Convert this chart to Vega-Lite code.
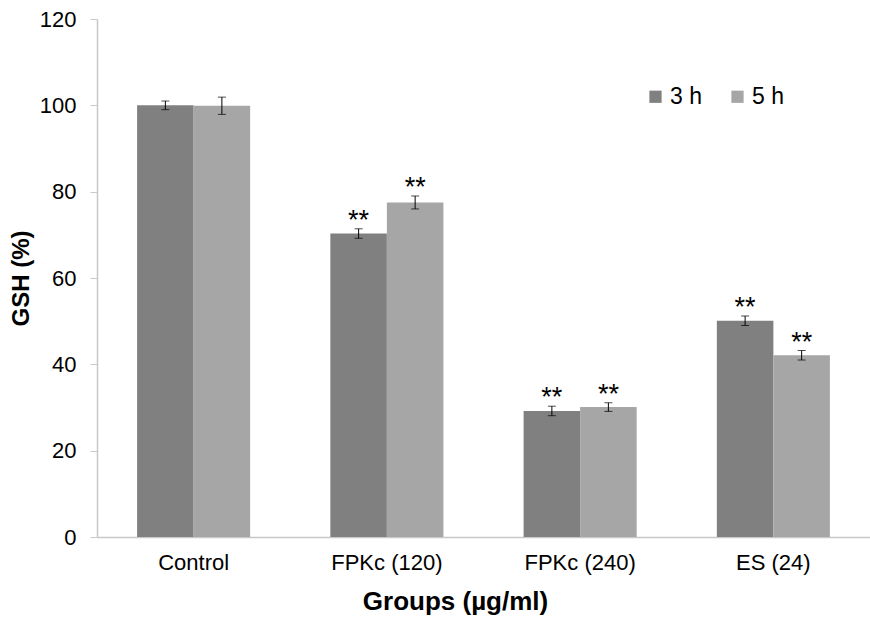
{
  "$schema": "https://vega.github.io/schema/vega-lite/v6.json",
  "width": 773,
  "height": 518,
  "autosize": {"type": "none"},
  "padding": {"left": 97, "top": 19, "right": 0, "bottom": 82},
  "background": "white",
  "config": {
    "view": {"stroke": null},
    "font": "Liberation Sans"
  },
  "data": {
    "values": [
      {"group": "Control", "time": "3 h", "value": 100.0, "err": 1.0, "sig": ""},
      {"group": "Control", "time": "5 h", "value": 99.9, "err": 2.0, "sig": ""},
      {"group": "FPKc (120)", "time": "3 h", "value": 70.3, "err": 1.1, "sig": "**"},
      {"group": "FPKc (120)", "time": "5 h", "value": 77.5, "err": 1.5, "sig": "**"},
      {"group": "FPKc (240)", "time": "3 h", "value": 29.2, "err": 1.1, "sig": "**"},
      {"group": "FPKc (240)", "time": "5 h", "value": 30.1, "err": 1.0, "sig": "**"},
      {"group": "ES (24)", "time": "3 h", "value": 50.1, "err": 1.1, "sig": "**"},
      {"group": "ES (24)", "time": "5 h", "value": 42.1, "err": 1.1, "sig": "**"}
    ]
  },
  "transform": [
    {"calculate": "datum.value - datum.err", "as": "lo"},
    {"calculate": "datum.value + datum.err", "as": "hi"}
  ],
  "encoding": {
    "x": {
      "field": "group",
      "type": "nominal",
      "sort": ["Control", "FPKc (120)", "FPKc (240)", "ES (24)"],
      "scale": {"paddingInner": 0.415, "paddingOuter": 0.2075},
      "axis": {
        "title": "Groups (µg/ml)",
        "titleFontSize": 26,
        "titleFontWeight": "bold",
        "titleColor": "#000",
        "titlePadding": 15,
        "titleX": 358,
        "labelAngle": 0,
        "labelFontSize": 22,
        "labelColor": "#000",
        "labelPadding": 15,
        "ticks": false,
        "domainColor": "#c8c8c8",
        "domainWidth": 1.5
      }
    },
    "xOffset": {"field": "time", "type": "nominal", "sort": ["3 h", "5 h"], "scale": {"paddingInner": 0, "paddingOuter": 0}}
  },
  "layer": [
    {
      "mark": {"type": "bar"},
      "encoding": {
        "y": {
          "field": "value",
          "type": "quantitative",
          "scale": {"domain": [0, 120], "nice": false},
          "axis": {
            "title": "GSH (%)",
            "titleFontSize": 24,
            "titleFontWeight": "bold",
            "titleColor": "#000",
            "titlePadding": 6,
            "values": [0, 20, 40, 60, 80, 100, 120],
            "labelFontSize": 22,
            "labelColor": "#000",
            "labelPadding": 14,
            "tickSize": 7,
            "tickColor": "#c8c8c8",
            "domainColor": "#c8c8c8",
            "domainWidth": 1.5,
            "grid": false
          }
        },
        "color": {
          "field": "time",
          "type": "nominal",
          "scale": {"domain": ["3 h", "5 h"], "range": ["#808080", "#a6a6a6"]},
          "legend": {
            "title": null,
            "orient": "none",
            "legendX": 547,
            "legendY": 66,
            "direction": "horizontal",
            "symbolType": "square",
            "symbolSize": 150,
            "symbolStrokeWidth": 0,
            "labelFontSize": 23,
            "labelColor": "#000",
            "columnPadding": 24,
            "labelOffset": 3
          }
        }
      }
    },
    {
      "mark": {"type": "rule", "color": "#000", "strokeWidth": 1},
      "encoding": {
        "y": {"field": "lo", "type": "quantitative"},
        "y2": {"field": "hi"}
      }
    },
    {
      "mark": {"type": "tick", "color": "#000", "thickness": 1, "size": 8},
      "encoding": {
        "y": {"field": "lo", "type": "quantitative"}
      }
    },
    {
      "mark": {"type": "tick", "color": "#000", "thickness": 1, "size": 8},
      "encoding": {
        "y": {"field": "hi", "type": "quantitative"}
      }
    },
    {
      "mark": {"type": "text", "fontSize": 27, "color": "#000", "baseline": "bottom", "dy": 6},
      "encoding": {
        "y": {"field": "hi", "type": "quantitative"},
        "text": {"field": "sig"}
      }
    }
  ]
}
